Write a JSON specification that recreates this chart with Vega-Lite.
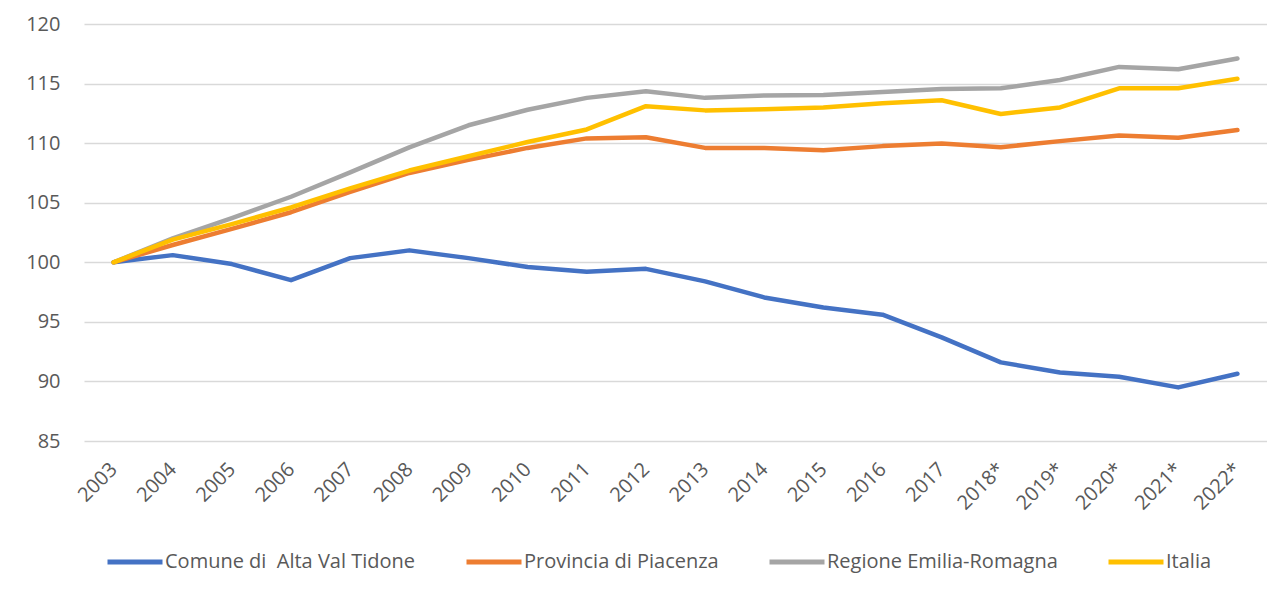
{
  "$schema": "https://vega.github.io/schema/vega-lite/v6.json",
  "autosize": {"type": "none"},
  "padding": {"left": 84, "top": 24, "right": 0, "bottom": 149},
  "width": 1183,
  "height": 417,
  "background": "white",
  "config": {
    "view": {"stroke": null},
    "font": "Open Sans"
  },
  "data": {
    "values": [
      {"anno": "2003", "serie": "Comune di  Alta Val Tidone", "valore": 100},
      {"anno": "2004", "serie": "Comune di  Alta Val Tidone", "valore": 100.6},
      {"anno": "2005", "serie": "Comune di  Alta Val Tidone", "valore": 99.85},
      {"anno": "2006", "serie": "Comune di  Alta Val Tidone", "valore": 98.5},
      {"anno": "2007", "serie": "Comune di  Alta Val Tidone", "valore": 100.35},
      {"anno": "2008", "serie": "Comune di  Alta Val Tidone", "valore": 101.0},
      {"anno": "2009", "serie": "Comune di  Alta Val Tidone", "valore": 100.35},
      {"anno": "2010", "serie": "Comune di  Alta Val Tidone", "valore": 99.6},
      {"anno": "2011", "serie": "Comune di  Alta Val Tidone", "valore": 99.2},
      {"anno": "2012", "serie": "Comune di  Alta Val Tidone", "valore": 99.45},
      {"anno": "2013", "serie": "Comune di  Alta Val Tidone", "valore": 98.4},
      {"anno": "2014", "serie": "Comune di  Alta Val Tidone", "valore": 97.05},
      {"anno": "2015", "serie": "Comune di  Alta Val Tidone", "valore": 96.2},
      {"anno": "2016", "serie": "Comune di  Alta Val Tidone", "valore": 95.6},
      {"anno": "2017", "serie": "Comune di  Alta Val Tidone", "valore": 93.7},
      {"anno": "2018*", "serie": "Comune di  Alta Val Tidone", "valore": 91.6},
      {"anno": "2019*", "serie": "Comune di  Alta Val Tidone", "valore": 90.75},
      {"anno": "2020*", "serie": "Comune di  Alta Val Tidone", "valore": 90.4},
      {"anno": "2021*", "serie": "Comune di  Alta Val Tidone", "valore": 89.5},
      {"anno": "2022*", "serie": "Comune di  Alta Val Tidone", "valore": 90.65},
      {"anno": "2003", "serie": "Provincia di Piacenza", "valore": 100},
      {"anno": "2004", "serie": "Provincia di Piacenza", "valore": 101.45},
      {"anno": "2005", "serie": "Provincia di Piacenza", "valore": 102.8},
      {"anno": "2006", "serie": "Provincia di Piacenza", "valore": 104.2},
      {"anno": "2007", "serie": "Provincia di Piacenza", "valore": 105.9},
      {"anno": "2008", "serie": "Provincia di Piacenza", "valore": 107.5},
      {"anno": "2009", "serie": "Provincia di Piacenza", "valore": 108.6},
      {"anno": "2010", "serie": "Provincia di Piacenza", "valore": 109.6},
      {"anno": "2011", "serie": "Provincia di Piacenza", "valore": 110.4},
      {"anno": "2012", "serie": "Provincia di Piacenza", "valore": 110.5},
      {"anno": "2013", "serie": "Provincia di Piacenza", "valore": 109.6},
      {"anno": "2014", "serie": "Provincia di Piacenza", "valore": 109.6},
      {"anno": "2015", "serie": "Provincia di Piacenza", "valore": 109.4},
      {"anno": "2016", "serie": "Provincia di Piacenza", "valore": 109.75},
      {"anno": "2017", "serie": "Provincia di Piacenza", "valore": 109.97},
      {"anno": "2018*", "serie": "Provincia di Piacenza", "valore": 109.66},
      {"anno": "2019*", "serie": "Provincia di Piacenza", "valore": 110.17},
      {"anno": "2020*", "serie": "Provincia di Piacenza", "valore": 110.65},
      {"anno": "2021*", "serie": "Provincia di Piacenza", "valore": 110.45},
      {"anno": "2022*", "serie": "Provincia di Piacenza", "valore": 111.1},
      {"anno": "2003", "serie": "Regione Emilia-Romagna", "valore": 100},
      {"anno": "2004", "serie": "Regione Emilia-Romagna", "valore": 102.0},
      {"anno": "2005", "serie": "Regione Emilia-Romagna", "valore": 103.7},
      {"anno": "2006", "serie": "Regione Emilia-Romagna", "valore": 105.5},
      {"anno": "2007", "serie": "Regione Emilia-Romagna", "valore": 107.55},
      {"anno": "2008", "serie": "Regione Emilia-Romagna", "valore": 109.65},
      {"anno": "2009", "serie": "Regione Emilia-Romagna", "valore": 111.5},
      {"anno": "2010", "serie": "Regione Emilia-Romagna", "valore": 112.8},
      {"anno": "2011", "serie": "Regione Emilia-Romagna", "valore": 113.8},
      {"anno": "2012", "serie": "Regione Emilia-Romagna", "valore": 114.35},
      {"anno": "2013", "serie": "Regione Emilia-Romagna", "valore": 113.8},
      {"anno": "2014", "serie": "Regione Emilia-Romagna", "valore": 114.0},
      {"anno": "2015", "serie": "Regione Emilia-Romagna", "valore": 114.05},
      {"anno": "2016", "serie": "Regione Emilia-Romagna", "valore": 114.3},
      {"anno": "2017", "serie": "Regione Emilia-Romagna", "valore": 114.55},
      {"anno": "2018*", "serie": "Regione Emilia-Romagna", "valore": 114.6},
      {"anno": "2019*", "serie": "Regione Emilia-Romagna", "valore": 115.3},
      {"anno": "2020*", "serie": "Regione Emilia-Romagna", "valore": 116.4},
      {"anno": "2021*", "serie": "Regione Emilia-Romagna", "valore": 116.2},
      {"anno": "2022*", "serie": "Regione Emilia-Romagna", "valore": 117.1},
      {"anno": "2003", "serie": "Italia", "valore": 100},
      {"anno": "2004", "serie": "Italia", "valore": 101.9},
      {"anno": "2005", "serie": "Italia", "valore": 103.2},
      {"anno": "2006", "serie": "Italia", "valore": 104.6},
      {"anno": "2007", "serie": "Italia", "valore": 106.2},
      {"anno": "2008", "serie": "Italia", "valore": 107.7},
      {"anno": "2009", "serie": "Italia", "valore": 108.9},
      {"anno": "2010", "serie": "Italia", "valore": 110.1},
      {"anno": "2011", "serie": "Italia", "valore": 111.15},
      {"anno": "2012", "serie": "Italia", "valore": 113.1},
      {"anno": "2013", "serie": "Italia", "valore": 112.75},
      {"anno": "2014", "serie": "Italia", "valore": 112.85},
      {"anno": "2015", "serie": "Italia", "valore": 113.0},
      {"anno": "2016", "serie": "Italia", "valore": 113.35},
      {"anno": "2017", "serie": "Italia", "valore": 113.6},
      {"anno": "2018*", "serie": "Italia", "valore": 112.45},
      {"anno": "2019*", "serie": "Italia", "valore": 113.0},
      {"anno": "2020*", "serie": "Italia", "valore": 114.6},
      {"anno": "2021*", "serie": "Italia", "valore": 114.6},
      {"anno": "2022*", "serie": "Italia", "valore": 115.4}
    ]
  },
  "encoding": {
    "x": {
      "field": "anno", "type": "ordinal",
      "scale": {"type": "point", "padding": 0.5},
      "axis": {
        "title": null, "domain": false, "ticks": false, "grid": false,
        "labelAngle": -45, "labelAlign": "right", "labelBaseline": "middle",
        "labelPadding": 25, "labelFont": "Open Sans", "labelFontSize": 20,
        "labelColor": "#595959"
      }
    },
    "y": {
      "field": "valore", "type": "quantitative",
      "scale": {"domain": [85, 120], "nice": false, "zero": false},
      "axis": {
        "title": null, "domain": false, "ticks": false,
        "values": [85, 90, 95, 100, 105, 110, 115, 120],
        "labelPadding": 24, "labelFont": "Open Sans", "labelFontSize": 20,
        "labelColor": "#595959", "gridColor": "#d9d9d9", "gridWidth": 1.5
      }
    },
    "color": {
      "field": "serie", "type": "nominal",
      "scale": {
        "domain": ["Comune di  Alta Val Tidone", "Provincia di Piacenza", "Regione Emilia-Romagna", "Italia"],
        "range": ["#4472C4", "#ED7D31", "#A5A5A5", "#FFC000"]
      },
      "legend": {
        "title": null, "orient": "none", "direction": "horizontal",
        "legendX": 21, "legendY": 508,
        "symbolType": "stroke", "symbolSize": 3025, "symbolStrokeWidth": 5,
        "labelFont": "Open Sans", "labelFontSize": 20, "labelColor": "#595959",
        "labelExpr": "replace(datum.label, '  ', ' \u00a0')",
        "labelOffset": 0, "columnPadding": 40, "labelLimit": 600
      }
    }
  },
  "layer": [
    {"transform": [{"filter": "datum.serie === 'Comune di  Alta Val Tidone'"}], "mark": {"type": "line", "strokeWidth": 4.5, "strokeCap": "round", "strokeJoin": "round"}},
    {"transform": [{"filter": "datum.serie === 'Provincia di Piacenza'"}], "mark": {"type": "line", "strokeWidth": 4.5, "strokeCap": "round", "strokeJoin": "round"}},
    {"transform": [{"filter": "datum.serie === 'Regione Emilia-Romagna'"}], "mark": {"type": "line", "strokeWidth": 4.5, "strokeCap": "round", "strokeJoin": "round"}},
    {"transform": [{"filter": "datum.serie === 'Italia'"}], "mark": {"type": "line", "strokeWidth": 4.5, "strokeCap": "round", "strokeJoin": "round"}}
  ]
}
